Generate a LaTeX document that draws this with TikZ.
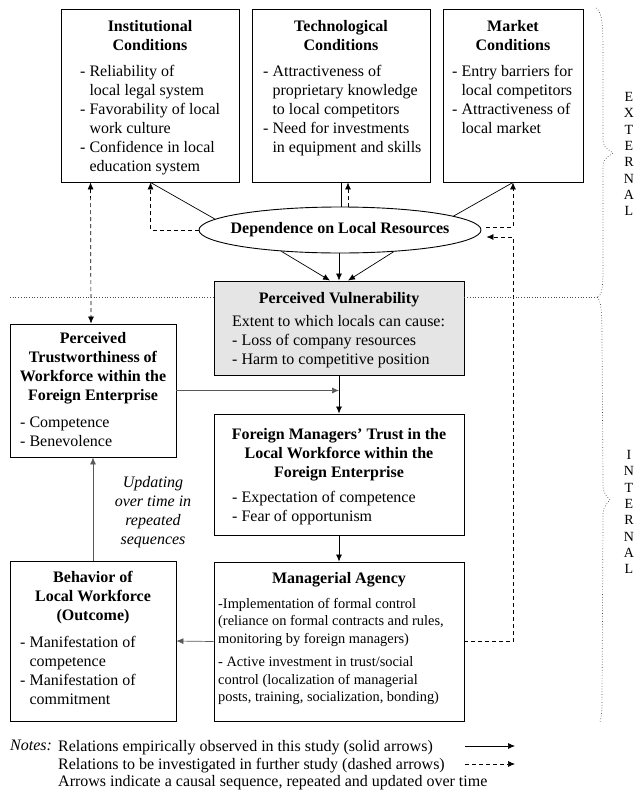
\documentclass[tikz,border=0pt]{standalone}
\usepackage{fontspec}
\setmainfont{Liberation Serif}
\usetikzlibrary{arrows.meta,shapes.geometric,calc}
\newcommand{\ind}{\hphantom{- }}
\newcommand{\bodysize}{\fontsize{16}{19}\selectfont}

\begin{document}
\begin{tikzpicture}[x=1pt,y=-1pt,font=\bodysize,
  box/.style={draw,line width=0.9pt,inner sep=0pt},
  hd/.style={anchor=north,align=center,font=\bodysize\bfseries,inner sep=0pt},
  lst/.style={anchor=north west,align=left,inner sep=0pt},
  sol/.style={line width=0.7pt,-{Latex[length=7pt,width=6pt]}},
  dsh/.style={sol,dash pattern=on 4pt off 3pt},
  gry/.style={sol,draw=black!65},
  dot/.style={line width=0.7pt,dotted,black!70}]
\useasboundingbox (0,0) rectangle (640,793);
% external conditions
\node[box,minimum width=178pt,minimum height=173pt] (inst) at (150,95.5) {};
\node[hd] (instT) at (150,20) {Institutional\\Conditions};
\node[lst] (instL) at (80,65) {- Reliability of\\\ind local legal system\\- Favorability of local\\\ind work culture\\- Confidence in local\\\ind education system};
\node[box,minimum width=178pt,minimum height=173pt] (tech) at (341,95.5) {};
\node[hd] (techT) at (341,20) {Technological\\Conditions};
\node[lst] (techL) at (263,65) {- Attractiveness of\\\ind proprietary knowledge\\\ind to local competitors\\- Need for investments\\\ind in equipment and skills};
\node[box,minimum width=140pt,minimum height=173pt] (mkt) at (513,95.5) {};
\node[hd] (mktT) at (513,20) {Market\\Conditions};
\node[lst] (mktL) at (452,65) {- Entry barriers for\\\ind local competitors\\- Attractiveness of\\\ind local market};
\node[box,ellipse,minimum width=282pt,minimum height=46pt] (dep) at (340,230) {};
\node[font=\bodysize\bfseries,inner sep=0pt] (depT) at (dep.center) {Dependence on Local Resources};
% internal chain
\node[box,fill=black!10,minimum width=250pt,minimum height=94pt] (vul) at (339,328) {};
\node[hd] (vulT) at (339,292) {Perceived Vulnerability};
\node[lst] (vulL) at (232,315) {Extent to which locals can cause:\\- Loss of company resources\\- Harm to competitive position};
\node[box,minimum width=166pt,minimum height=133pt] (trust) at (93,390.5) {};
\node[hd] (trustT) at (93,332) {Perceived\\Trustworthiness of\\Workforce within the\\Foreign Enterprise};
\node[lst] (trustL) at (20,417) {- Competence\\- Benevolence};
\node[box,minimum width=250pt,minimum height=121pt] (fmt) at (339,474.5) {};
\node[hd] (fmtT) at (339,428) {Foreign Managers' Trust in the\\Local Workforce within the\\Foreign Enterprise};
\node[lst] (fmtL) at (232,491) {- Expectation of competence\\- Fear of opportunism};
\node[box,minimum width=250pt,minimum height=159pt] (mgr) at (339,641.5) {};
\node[hd] (mgrT) at (339,572) {Managerial Agency};
\node[lst,font=\fontsize{14.4}{17.5}\selectfont] (mgrL) at (218,598) {-Implementation of formal control\\(reliance on formal contracts and rules,\\monitoring by foreign managers)\\[6pt]- Active investment in trust/social\\control (localization of managerial\\posts, training, socialization, bonding)};
\node[box,minimum width=166pt,minimum height=160pt] (beh) at (93,641) {};
\node[hd] (behT) at (93,571) {Behavior of\\Local Workforce\\(Outcome)};
\node[lst] (behL) at (20,636) {- Manifestation of\\\ind competence\\- Manifestation of\\\ind commitment};
\node[anchor=north,align=center,inner sep=0pt,font=\bodysize\itshape] (upd) at (153,476) {Updating\\over time in\\repeated\\sequences};
% brace labels
\node[align=center,font=\fontsize{14}{16.3}\selectfont] (ext) at (629,154) {E\\X\\T\\E\\R\\N\\A\\L};
\node[align=center,font=\fontsize{14}{16.3}\selectfont] (int) at (629,512) {I\\N\\T\\E\\R\\N\\A\\L};
% notes
\node[lst,font=\fontsize{16}{17.7}\selectfont\itshape] (nt) at (10,740) {Notes:};
\node[lst,font=\fontsize{16}{17.7}\selectfont] (nl) at (58,740) {Relations empirically observed in this study (solid arrows)\\Relations to be investigated in further study (dashed arrows)\\Arrows indicate a causal sequence, repeated and updated over time};
\coordinate (s1) at (465,746); \coordinate (s2) at (515,746);
\coordinate (d1) at (465,764); \coordinate (d2) at (515,764);
\draw[sol] (s1) -- (s2);
\draw[dsh] (d1) -- (d2);
% connectors
\coordinate (ia) at ($(inst.south west)+(90,0)$);
\coordinate (fb) at ($(dep.east)+(32,7)$);
\draw[line width=0.7pt] (ia) -- (dep.175);
\draw[dsh] (dep.west) -| (ia);
\draw[line width=0.7pt] (tech.south) -- (tech.south |- dep.north);
\draw[dsh] ($(dep.north)+(8,0)$) -- ($(tech.south)+(7,0)$);
\draw[line width=0.7pt] (dep.7) -- (mkt.south);
\draw[dsh] ($(dep.east)+(5,-3)$) -| (mkt.south);
\draw[sol] (dep.200) -- ($(vul.north)+(-9,0)$);
\draw[sol] (dep.south -| vul.north) -- (vul.north);
\draw[sol] (dep.338) -- ($(vul.north)+(9,0)$);
\draw[dsh,{Latex[length=7pt,width=6pt]}-{Latex[length=7pt,width=6pt]}] ($(inst.south west)+(30,0)$) -- ($(trust.north)+(-2,0)$);
\draw[gry] (trust.east) -- (trust.east -| vul.south);
\draw[sol] (vul.south) -- (fmt.north);
\draw[sol] (fmt.south) -- (mgr.north);
\draw[gry] (mgr.west) -- (beh.east);
\draw[gry] (beh.north) -- (trust.south);
\draw[dsh] (mgr.east) -| (fb) -- ($(dep.east)+(5,7)$);
% divider and braces
\coordinate (lft) at (10,297);
\coordinate (bx) at (597,297);
\draw[dot] (lft) -- (vul.west |- lft);
\draw[dot] (vul.east |- lft) -- (bx);
\draw[dot] (596,8) .. controls (603,12) and (603,30) .. (603,60) -- (603,135) .. controls (603,146) .. (613,153) .. controls (603,160) .. (603,172) -- (603,270) .. controls (603,290) and (601,297) .. (bx);
\draw[dot] (bx) .. controls (601,300) and (602,310) .. (602,340) -- (603,480) .. controls (603,492) .. (610,500) .. controls (603,508) .. (603,520) -- (602,700) .. controls (602,712) .. (600,722);
\end{tikzpicture}
\end{document}
